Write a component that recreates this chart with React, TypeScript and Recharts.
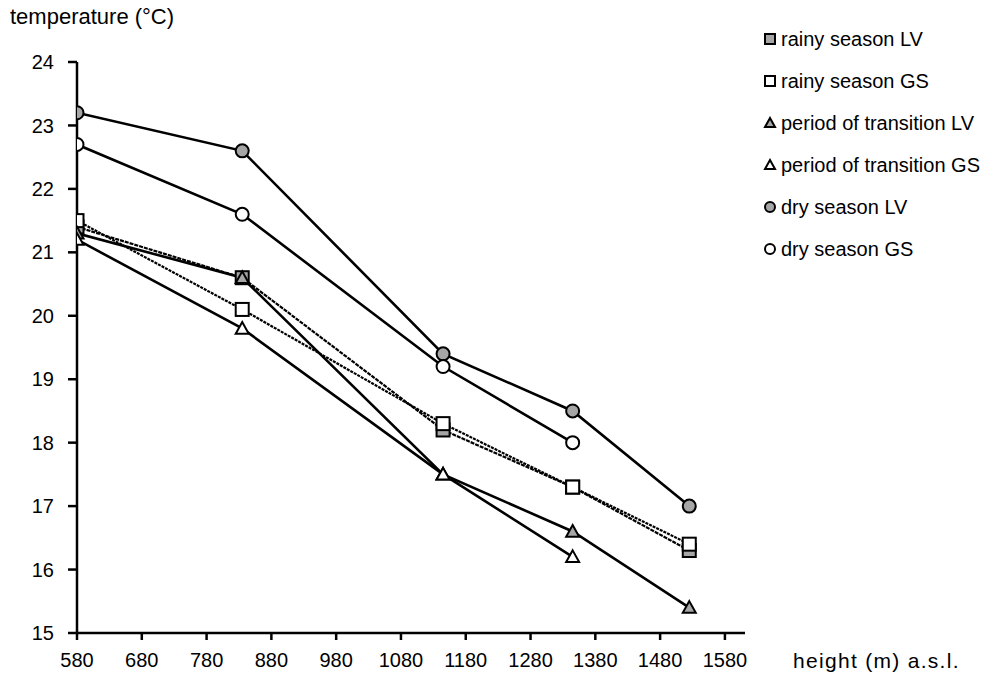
import React from "react";
import { LineChart, Line, XAxis, YAxis } from "recharts";

// heights (m a.s.l.) of the stations
const heights = [580, 835, 1145, 1345, 1525];

// mean temperatures (°C)
const rainyLV = [21.4, 20.6, 18.2, 17.3, 16.3];
const rainyGS = [21.5, 20.1, 18.3, 17.3, 16.4];
const transitionLV = [21.3, 20.6, 17.5, 16.6, 15.4];
const transitionGS = [21.2, 19.8, 17.5, 16.2, null];
const dryLV = [23.2, 22.6, 19.4, 18.5, 17.0];
const dryGS = [22.7, 21.6, 19.2, 18.0, null];

const xTicks = [580, 680, 780, 880, 980, 1080, 1180, 1280, 1380, 1480, 1580];
const yTicks = [15, 16, 17, 18, 19, 20, 21, 22, 23, 24];

type Shape = "square" | "triangle" | "circle";

const series: Array<{
  key: string;
  name: string;
  values: Array<number | null>;
  shape: Shape;
  fill: string;
  dash?: string;
  width: number;
}> = [
  { key: "rainyLV", name: "rainy season LV", values: rainyLV, shape: "square", fill: "#a6a6a6", dash: "4 1", width: 2.2 },
  { key: "rainyGS", name: "rainy season GS", values: rainyGS, shape: "square", fill: "#ffffff", dash: "3 1", width: 2.2 },
  { key: "transitionLV", name: "period of transition LV", values: transitionLV, shape: "triangle", fill: "#a6a6a6", width: 2.6 },
  { key: "transitionGS", name: "period of transition GS", values: transitionGS, shape: "triangle", fill: "#ffffff", width: 2.6 },
  { key: "dryLV", name: "dry season LV", values: dryLV, shape: "circle", fill: "#a6a6a6", width: 2.6 },
  { key: "dryGS", name: "dry season GS", values: dryGS, shape: "circle", fill: "#ffffff", width: 2.6 },
];

const data = heights.map((h, i) => {
  const row: Record<string, number | null> = { height: h };
  series.forEach((s) => {
    row[s.key] = s.values[i];
  });
  return row;
});

const FONT = "'Liberation Sans', Arial, sans-serif";

function Marker({ shape, fill, cx, cy, size }: { shape: Shape; fill: string; cx: number; cy: number; size: number }) {
  const h = size / 2;
  if (shape === "square") {
    return <rect x={cx - h} y={cy - h} width={size} height={size} fill={fill} stroke="#000" strokeWidth={2} />;
  }
  if (shape === "triangle") {
    const pts = `${cx},${cy - h} ${cx + h},${cy + h * 0.8} ${cx - h},${cy + h * 0.8}`;
    return <polygon points={pts} fill={fill} stroke="#000" strokeWidth={2} />;
  }
  return <circle cx={cx} cy={cy} r={h} fill={fill} stroke="#000" strokeWidth={2} />;
}

function makeDot(shape: Shape, fill: string) {
  return (props: any) => {
    const { cx, cy, value, index, dataKey } = props;
    if (value == null || cx == null || cy == null) return <g key={`${dataKey}-${index}`} />;
    return (
      <g key={`${dataKey}-${index}`}>
        <Marker shape={shape} fill={fill} cx={cx} cy={cy} size={13} />
      </g>
    );
  };
}

function LegendBox() {
  return (
    <div style={{ position: "absolute", left: 763, top: 18, fontFamily: FONT, fontSize: 20, color: "#000" }}>
      {series.map((s) => (
        <div key={s.key} style={{ display: "flex", alignItems: "center", height: 42 }}>
          <svg width={14} height={14} style={{ marginRight: 4 }}>
            <Marker shape={s.shape} fill={s.fill} cx={7} cy={7} size={10} />
          </svg>
          <span>{s.name}</span>
        </div>
      ))}
    </div>
  );
}

export default function App() {
  return (
    <div style={{ position: "absolute", left: 0, top: 0, width: 995, height: 680, background: "#fff", fontFamily: FONT }}>
      <div style={{ position: "absolute", left: 10, top: 4, fontSize: 22 }}>temperature (°C)</div>
      <div style={{ position: "absolute", left: 793, top: 649, fontSize: 21, letterSpacing: 1.3 }}>height (m) a.s.l.</div>
      <LineChart width={995} height={680} data={data} margin={{ top: 62, right: 250, left: 17, bottom: 17 }}>
        <XAxis
          dataKey="height"
          type="number"
          domain={[580, 1611]}
          ticks={xTicks}
          interval={0}
          allowDataOverflow
          stroke="#000"
          strokeWidth={2.5}
          tickSize={7}
          tickMargin={13}
          height={30}
          tick={{ fill: "#000", fontSize: 20, fontFamily: FONT }}
        />
        <YAxis
          type="number"
          domain={[15, 24]}
          ticks={yTicks}
          interval={0}
          stroke="#000"
          strokeWidth={2.5}
          tickSize={9}
          tickMargin={14}
          width={60}
          tick={{ fill: "#000", fontSize: 20, fontFamily: FONT }}
        />
        {series.map((s) => (
          <Line
            key={s.key}
            dataKey={s.key}
            name={s.name}
            type="linear"
            stroke="#000"
            strokeWidth={s.width}
            strokeDasharray={s.dash}
            dot={makeDot(s.shape, s.fill)}
            activeDot={false}
            isAnimationActive={false}
            connectNulls={false}
          />
        ))}
      </LineChart>
      <LegendBox />
    </div>
  );
}
